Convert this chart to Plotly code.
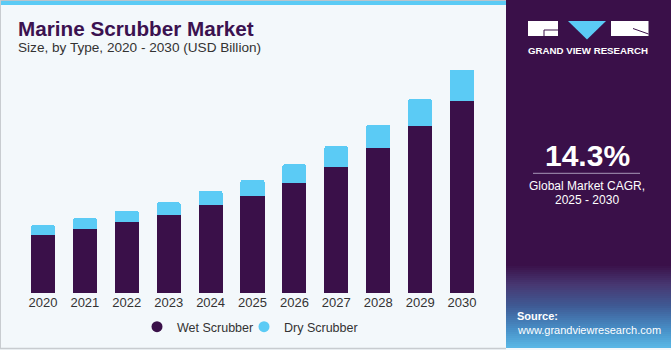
import plotly.graph_objects as go

# ---- data ----
years = ["2020", "2021", "2022", "2023", "2024", "2025", "2026", "2027", "2028", "2029", "2030"]
wet_scrubber = [3.75, 4.16, 4.57, 5.07, 5.68, 6.30, 7.14, 8.16, 9.37, 10.79, 12.43]
dry_scrubber = [0.63, 0.69, 0.75, 0.80, 0.92, 1.04, 1.19, 1.34, 1.53, 1.75, 2.03]
series_names = ["Wet Scrubber", "Dry Scrubber"]
highlight_year = "2024"
highlight_label = "$6.6B"
cagr_value = "14.3%"

W, H = 671, 350
PURPLE = "#3A1049"
BLUE = "#5BCBF5"
BG = "#F3F8FB"
FONT = "Liberation Sans, Arial, sans-serif"


def px(x):
    return x / W


def py(y):
    return 1 - y / H


fig = go.Figure()
fig.add_trace(go.Bar(x=years, y=wet_scrubber, name=series_names[0], marker=dict(color=PURPLE, line=dict(width=0)),
                     showlegend=False, hoverinfo="skip"))
fig.add_trace(go.Bar(x=years, y=dry_scrubber, name=series_names[1], marker=dict(color=BLUE, line=dict(width=0)),
                     showlegend=False, hoverinfo="skip"))
# legend entries with circle symbols (no visible points)
fig.add_trace(go.Scatter(x=[years[0]], y=[None], mode="markers", name=series_names[0],
                         marker=dict(color=PURPLE, size=11, symbol="circle"), hoverinfo="skip"))
fig.add_trace(go.Scatter(x=[years[0]], y=[None], mode="markers", name=series_names[1],
                         marker=dict(color=BLUE, size=11, symbol="circle"), hoverinfo="skip"))
# invisible spacer entry so the last legend label is not clipped
fig.add_trace(go.Scatter(x=[years[0]], y=[None], mode="markers", name=" ",
                         marker=dict(color="rgba(0,0,0,0)", size=1), hoverinfo="skip"))

idx = years.index(highlight_year)
total_h = wet_scrubber[idx] + dry_scrubber[idx]

shapes = []
# right panel
shapes.append(dict(type="rect", xref="paper", yref="paper", x0=px(506), x1=1, y0=py(348), y1=1,
                   fillcolor=PURPLE, line=dict(width=0), layer="below"))


def lerp(c1, c2, t):
    a = [int(c1[i:i + 2], 16) for i in (1, 3, 5)]
    b = [int(c2[i:i + 2], 16) for i in (1, 3, 5)]
    return "#%02x%02x%02x" % tuple(round(a[k] + (b[k] - a[k]) * t) for k in range(3))


stops = [(264, "#3A1049"), (284, "#473872"), (305, "#3F5A94"), (328, "#478ec6"), (348, "#5bbbe8")]
y = 264
while y < 348:
    for (ya, ca), (yb, cb) in zip(stops[:-1], stops[1:]):
        if ya <= y < yb:
            col = lerp(ca, cb, (y - ya) / (yb - ya))
            break
    shapes.append(dict(type="rect", xref="paper", yref="paper", x0=px(506), x1=1, y0=py(y + 2), y1=py(y),
                       fillcolor=col, line=dict(width=0), layer="below"))
    y += 2

# top blue strip + borders
shapes.append(dict(type="rect", xref="paper", yref="paper", x0=0, x1=px(506), y0=py(5), y1=1,
                   fillcolor=BLUE, line=dict(width=0)))
shapes.append(dict(type="line", xref="paper", yref="paper", x0=0, x1=px(506), y0=py(0.5), y1=py(0.5),
                   line=dict(color="#b8c4cc", width=1)))
shapes.append(dict(type="line", xref="paper", yref="paper", x0=px(0.5), x1=px(0.5), y0=py(348), y1=1,
                   line=dict(color="#c8ccd0", width=1)))
shapes.append(dict(type="line", xref="paper", yref="paper", x0=0, x1=px(506), y0=py(348.5), y1=py(348.5),
                   line=dict(color="#c8ccd0", width=1.5)))

# logo
shapes.append(dict(type="rect", xref="paper", yref="paper", x0=px(528), x1=px(558), y0=py(36), y1=py(21),
                   fillcolor="white", line=dict(width=0)))
shapes.append(dict(type="path", xref="paper", yref="paper",
                   path=f"M {px(568)},{py(21)} L {px(606)},{py(21)} L {px(587)},{py(39.5)} Z",
                   fillcolor=BLUE, line=dict(width=0)))
shapes.append(dict(type="rect", xref="paper", yref="paper", x0=px(611), x1=px(648.5), y0=py(36), y1=py(21),
                   fillcolor="white", line=dict(width=0)))
shapes.append(dict(type="path", xref="paper", yref="paper",
                   path=f"M {px(544)},{py(36)} L {px(544)},{py(30)} L {px(558)},{py(30)}",
                   line=dict(color=PURPLE, width=1)))
shapes.append(dict(type="line", xref="paper", yref="paper", x0=px(633), x1=px(648.5), y0=py(28.5), y1=py(34),
                   line=dict(color=PURPLE, width=1)))
# CAGR separator
shapes.append(dict(type="line", xref="paper", yref="paper", x0=px(533), x1=px(640), y0=py(173.3), y1=py(173.3),
                   line=dict(color="#a898b8", width=1)))

ann = []


def text(x, y, s, size, color, xanchor="left", bold=False, family=FONT):
    ann.append(dict(x=px(x), y=py(y), xref="paper", yref="paper", text=(f"<b>{s}</b>" if bold else s),
                    showarrow=False, xanchor=xanchor, yanchor="middle",
                    font=dict(size=size, color=color, family=family)))


text(16, 28.5, "Marine Scrubber Market", 20.7, "#3B1250", bold=True)
text(16, 47, "Size, by Type, 2020 - 2030 (USD Billion)", 13.6, "#333333")
text(588, 50.5, "GRAND VIEW RESEARCH", 9.7, "white", xanchor="center", bold=True)
text(587, 155, cagr_value, 30, "white", xanchor="center", bold=True)
text(587, 185.5, "Global Market CAGR,", 12, "white", xanchor="center")
text(587, 200, "2025 - 2030", 12, "white", xanchor="center")
text(515, 316, "Source:", 11, "white", bold=True)
text(515, 329.5, "www.grandviewresearch.com", 11, "white")

ann.append(dict(x=highlight_year, y=total_h, xref="x", yref="y", text=highlight_label, showarrow=False,
                yanchor="bottom", yshift=5, font=dict(size=13, color="#333333", family=FONT)))

fig.update_layout(
    width=W, height=H,
    margin=dict(l=0, r=0, t=0, b=0),
    paper_bgcolor=BG, plot_bgcolor=BG,
    barmode="stack", bargap=0.427, barcornerradius=2,
    shapes=shapes, annotations=ann,
    font=dict(family=FONT, color="#333333"),
    xaxis=dict(type="category", categoryorder="array", categoryarray=years, range=[-0.5, len(years) - 0.5],
               domain=[px(22), px(483)], showgrid=False, showline=False, zeroline=False,
               ticks="", tickfont=dict(size=13, color="#333333", family=FONT), fixedrange=True),
    yaxis=dict(range=[0, 15.08], domain=[py(293), py(60)], visible=False, fixedrange=True),
    legend=dict(orientation="h", x=px(137), y=py(327), xanchor="left", yanchor="middle",
                font=dict(size=12.5, color="#333333", family=FONT), bgcolor="rgba(0,0,0,0)",
                itemwidth=30, entrywidth=62, entrywidthmode="pixels", traceorder="normal"),
    showlegend=True,
)

fig.write_html("out.html")
